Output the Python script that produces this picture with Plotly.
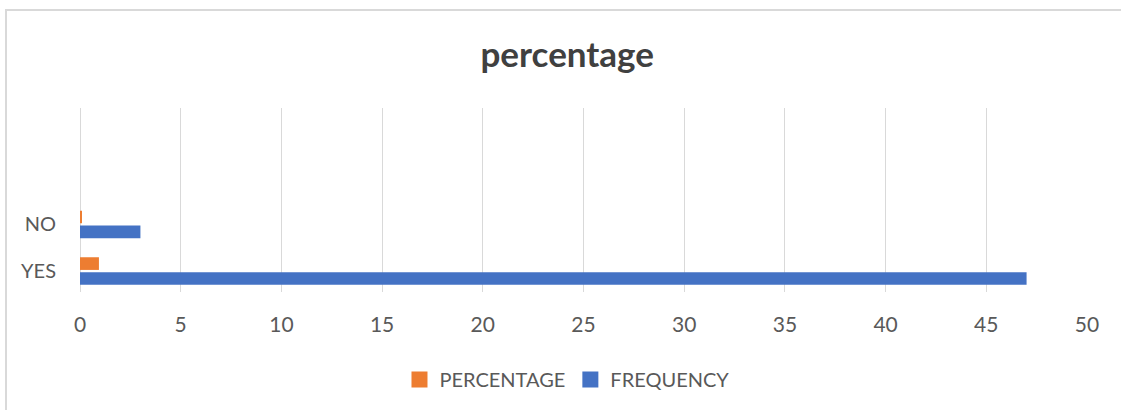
import plotly.graph_objects as go

# Survey answers
categories = ["YES", "NO"]
frequency = [47, 3]
percentage = [0.94, 0.06]
x_ticks = [0, 5, 10, 15, 20, 25, 30, 35, 40, 45, 50]

BLUE = "#4472C4"
ORANGE = "#ED7D31"
FONT = "Lato, 'Open Sans', sans-serif"

fig = go.Figure()
fig.add_trace(go.Bar(
    y=categories, x=frequency, orientation="h", name="FREQUENCY",
    marker=dict(color=BLUE, line=dict(width=0)), showlegend=False,
))
fig.add_trace(go.Bar(
    y=categories, x=percentage, orientation="h", name="PERCENTAGE",
    marker=dict(color=ORANGE, line=dict(width=0)), showlegend=False,
))

# square legend keys
for name, color in [("PERCENTAGE", ORANGE), ("FREQUENCY", BLUE)]:
    fig.add_trace(go.Scatter(
        x=[None], y=[None], mode="markers", name=name,
        marker=dict(symbol="square", size=16, color=color),
    ))

fig.update_layout(
    width=1121, height=410,
    margin=dict(l=80, r=34, t=108, b=117),
    paper_bgcolor="white", plot_bgcolor="white",
    barmode="group", bargap=0.36, bargroupgap=0.15,
    font=dict(family=FONT, size=21, color="#595959"),
    title=dict(text="<b>percentage</b>", x=0.506, xanchor="center",
               y=1 - 55 / 410, yanchor="middle",
               font=dict(family=FONT, size=35, color="#404040")),
    xaxis=dict(range=[0, 50], tickvals=x_ticks, showgrid=True,
               gridcolor="#D9D9D9", gridwidth=1, zeroline=True,
               zerolinecolor="#D9D9D9", zerolinewidth=1,
               showline=False, ticks="outside", ticklen=14,
               tickcolor="rgba(0,0,0,0)", tickfont=dict(size=21)),
    yaxis=dict(type="category", categoryarray=categories,
               range=[-0.45, 3.5], showgrid=False, zeroline=False,
               showline=False, ticks="outside", ticklen=19,
               tickcolor="rgba(0,0,0,0)", tickfont=dict(size=20)),
    legend=dict(orientation="h",
                x=0.4836, xanchor="center", y=-0.468, yanchor="middle",
                font=dict(size=20, color="#595959"),
                itemwidth=30, bgcolor="rgba(0,0,0,0)"),
    showlegend=True,
    shapes=[dict(type="rect", xref="paper", yref="paper",
                 x0=-0.0735, x1=1.08, y0=-0.7, y1=1.532,
                 line=dict(color="#D9D9D9", width=2),
                 fillcolor="rgba(0,0,0,0)", layer="below")],
)

fig.write_html("out.html")
